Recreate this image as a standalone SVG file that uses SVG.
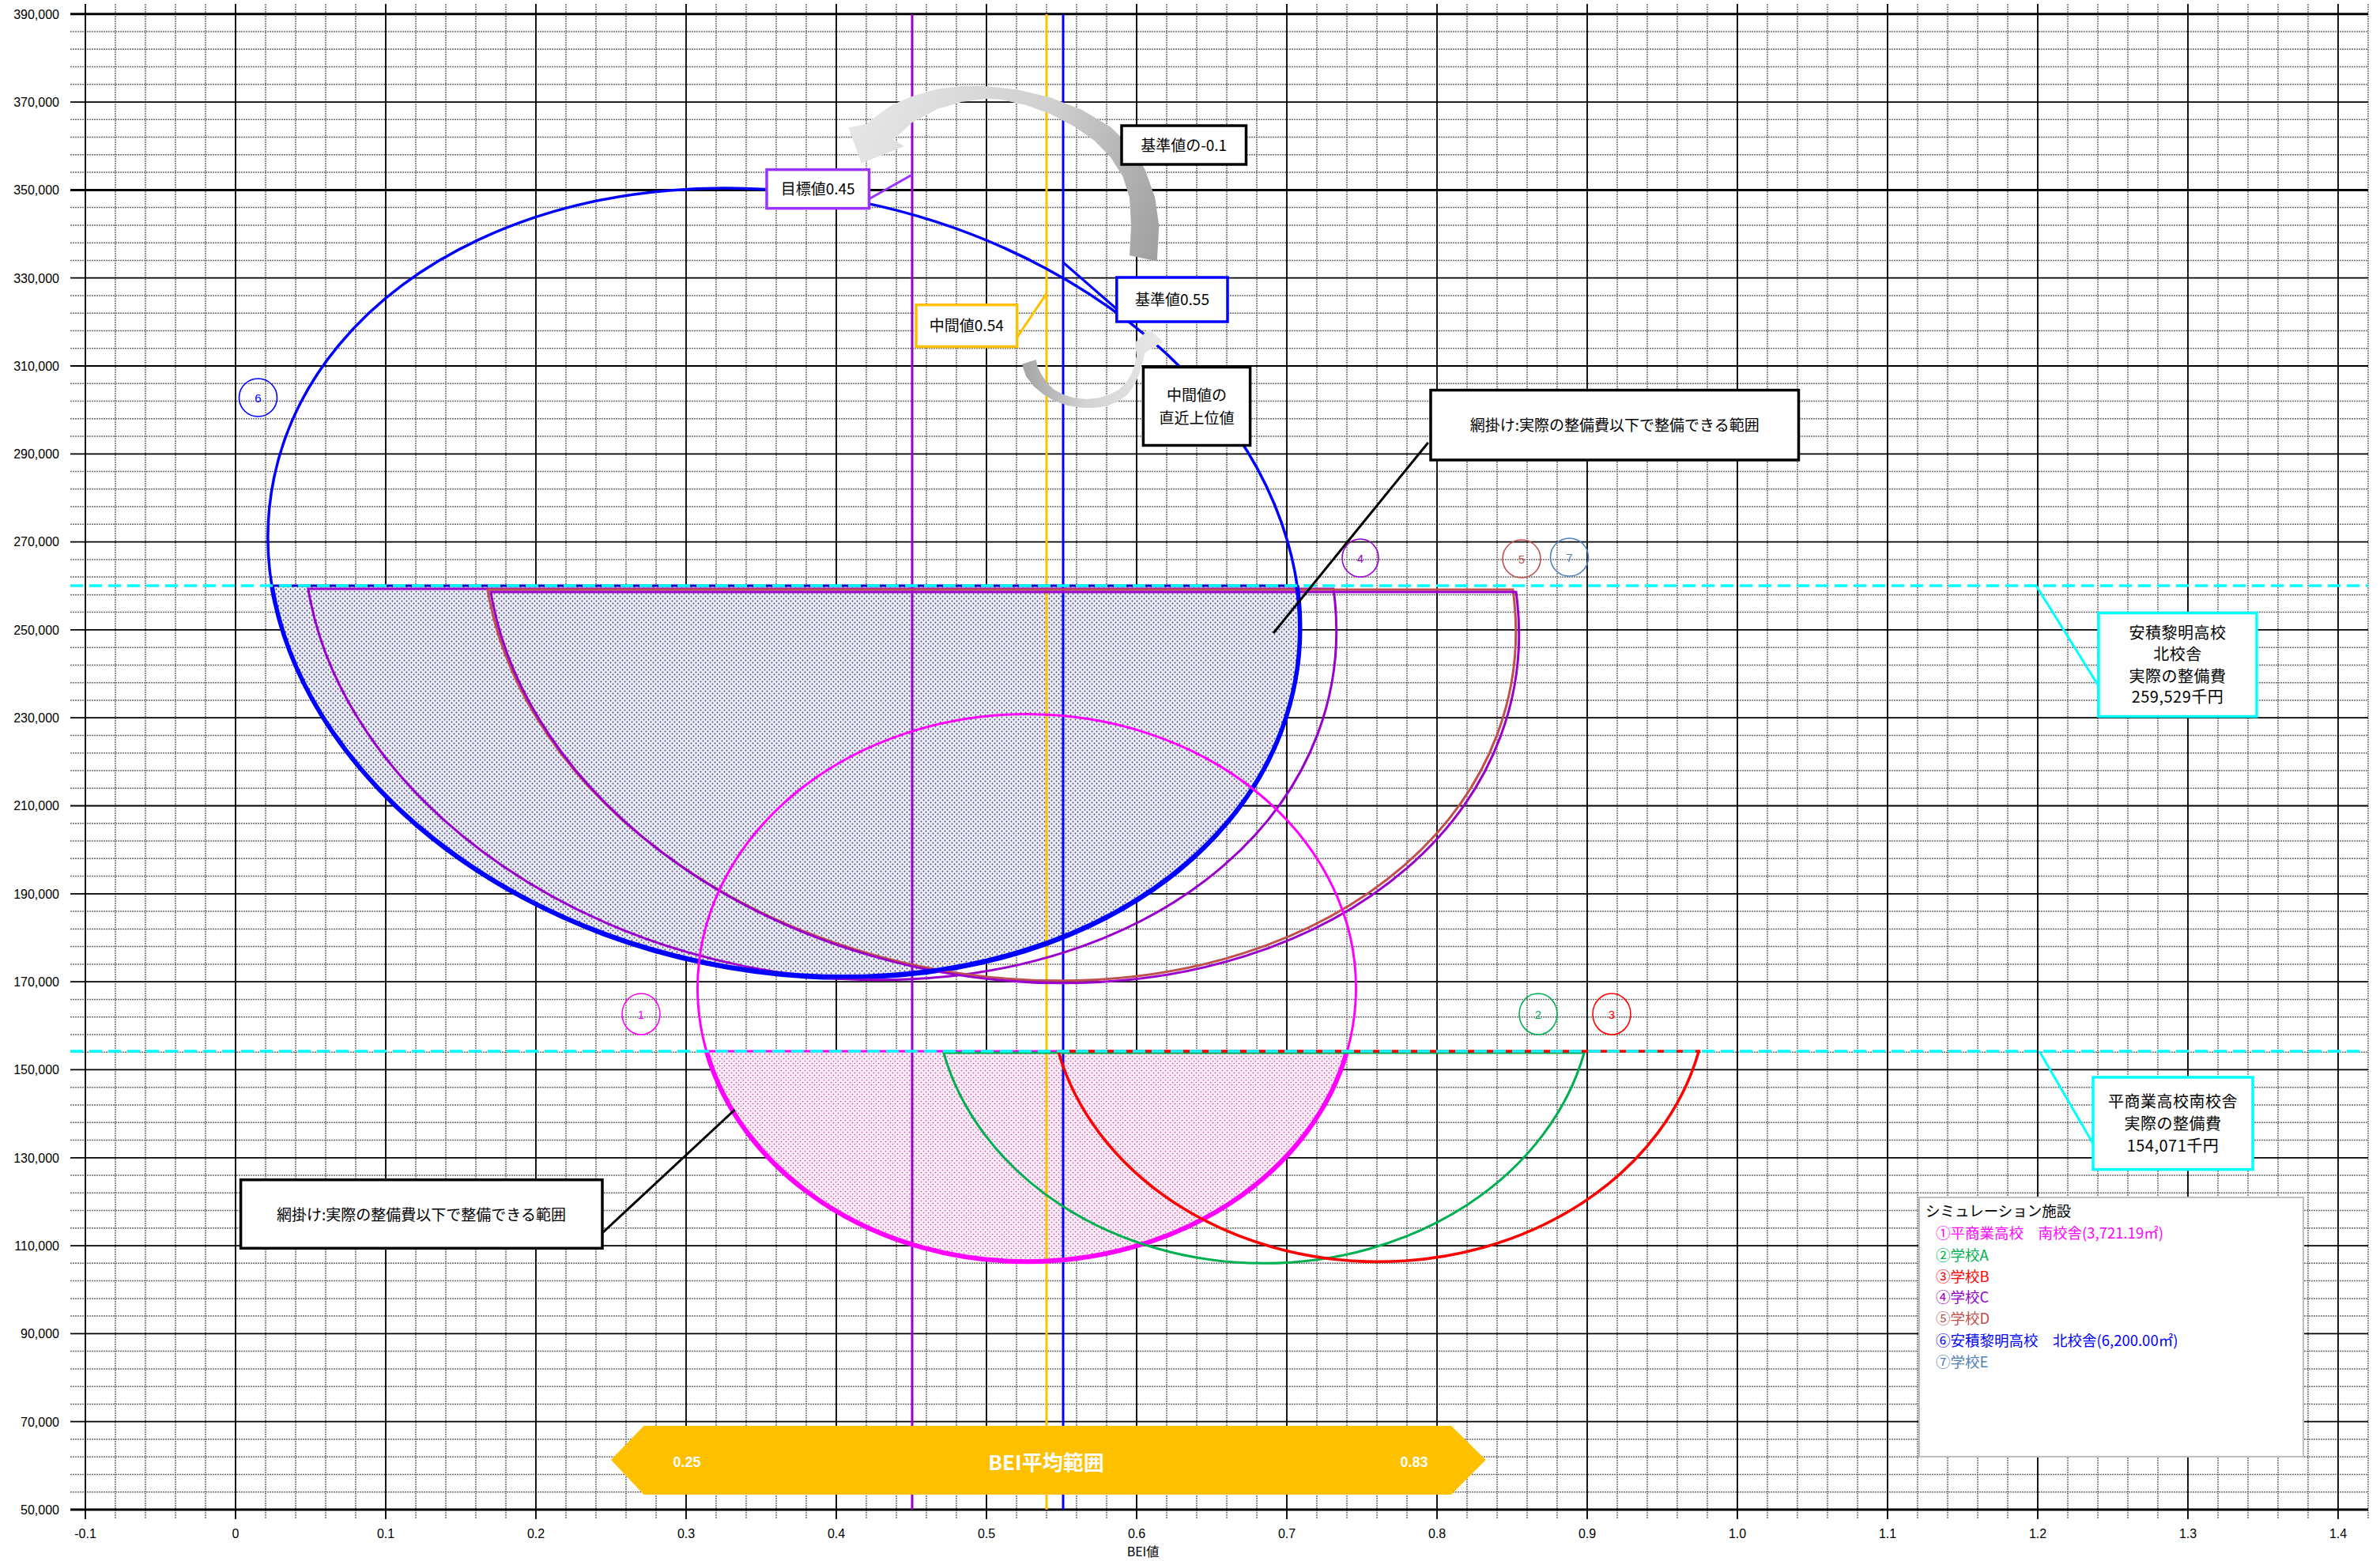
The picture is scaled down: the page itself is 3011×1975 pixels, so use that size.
<svg xmlns="http://www.w3.org/2000/svg" width="3011" height="1975" viewBox="0 0 3011 1975">
<defs>
<style>
.ax{font-family:"Liberation Sans",Arial,sans-serif;font-size:16px;fill:#000}
.jp{font-family:"Noto Sans CJK JP","Noto Sans",sans-serif}
.minor{stroke:#707070;stroke-width:1.5;stroke-dasharray:2 1;fill:none}
.major{stroke:#000;stroke-width:1.8;fill:none}
.box{fill:#fff;stroke-width:3.5}
.lbl{font-family:"Noto Sans CJK JP","Noto Sans",sans-serif;font-size:19px;fill:#000;text-anchor:middle}
.cyt{font-family:"Noto Sans CJK JP","Noto Sans",sans-serif;font-size:20px;fill:#000;text-anchor:middle;letter-spacing:0.5px}
.lg{font-family:"Noto Sans CJK JP","Noto Sans",sans-serif;font-size:18.5px}
.num{font-family:"Liberation Sans",Arial,sans-serif;font-size:15px;text-anchor:middle}
.cyan{stroke:#00FFFF;stroke-width:3.5;stroke-dasharray:16 8;fill:none}
</style>
<pattern id="hatchB" width="6" height="6" patternUnits="userSpaceOnUse"><rect width="6" height="6" fill="#ECECF6"/><circle cx="1.5" cy="1.5" r="0.9" fill="#3C3C7A"/><circle cx="4.5" cy="4.5" r="0.9" fill="#3C3C7A"/></pattern>
<pattern id="hatchP" width="6" height="6" patternUnits="userSpaceOnUse"><rect width="6" height="6" fill="#FDEBF9"/><circle cx="1.5" cy="1.5" r="0.85" fill="#C0509E"/><circle cx="4.5" cy="4.5" r="0.85" fill="#C0509E"/></pattern>
<linearGradient id="gBig" gradientUnits="userSpaceOnUse" x1="1080" y1="150" x2="1470" y2="300"><stop offset="0" stop-color="#E6E6E6"/><stop offset="0.55" stop-color="#CFCFCF"/><stop offset="1" stop-color="#A0A0A0"/></linearGradient>
<linearGradient id="gSmall" gradientUnits="userSpaceOnUse" x1="1295" y1="460" x2="1470" y2="430"><stop offset="0" stop-color="#A6A6A6"/><stop offset="0.4" stop-color="#D4D4D4"/><stop offset="1" stop-color="#E8E8E8"/></linearGradient>
<path id="halfU" d="M343.9,741 A659,492 11.65 0 0 1641,741 Z"/>
<path id="halfL" d="M893.8,1330 A416.5,346.5 0 0 0 1704.2,1330 Z"/>
</defs>
<rect width="3011" height="1975" fill="#fff"/>
<g id="grid">
<path class="minor" d="M146 5V1922M184 5V1922M222 5V1922M260 5V1922M336 5V1922M374 5V1922M412 5V1922M450 5V1922M526 5V1922M564 5V1922M602 5V1922M640 5V1922M716 5V1922M754 5V1922M792 5V1922M830 5V1922M906 5V1922M944 5V1922M982 5V1922M1020 5V1922M1096 5V1922M1134 5V1922M1172 5V1922M1210 5V1922M1286 5V1922M1324 5V1922M1362 5V1922M1400 5V1922M1476 5V1922M1514 5V1922M1552 5V1922M1590 5V1922M1666 5V1922M1704 5V1922M1742 5V1922M1780 5V1922M1856 5V1922M1894 5V1922M1932 5V1922M1970 5V1922M2046 5V1922M2084 5V1922M2122 5V1922M2160 5V1922M2236 5V1922M2274 5V1922M2312 5V1922M2350 5V1922M2426 5V1922M2464 5V1922M2502 5V1922M2540 5V1922M2616 5V1922M2654 5V1922M2692 5V1922M2730 5V1922M2806 5V1922M2844 5V1922M2882 5V1922M2920 5V1922M2996 5V1922"/>
<path class="minor" d="M89 1887.7H2996M89 1865.5H2996M89 1843.2H2996M89 1821H2996M89 1776.4H2996M89 1754.2H2996M89 1731.9H2996M89 1709.6H2996M89 1665.1H2996M89 1642.9H2996M89 1620.6H2996M89 1598.3H2996M89 1553.8H2996M89 1531.5H2996M89 1509.3H2996M89 1487H2996M89 1442.5H2996M89 1420.2H2996M89 1398H2996M89 1375.7H2996M89 1331.2H2996M89 1308.9H2996M89 1286.7H2996M89 1264.4H2996M89 1219.9H2996M89 1197.6H2996M89 1175.4H2996M89 1153.1H2996M89 1108.6H2996M89 1086.3H2996M89 1064H2996M89 1041.8H2996M89 997.3H2996M89 975H2996M89 952.7H2996M89 930.5H2996M89 885.9H2996M89 863.7H2996M89 841.4H2996M89 819.2H2996M89 774.6H2996M89 752.4H2996M89 730.1H2996M89 707.9H2996M89 663.3H2996M89 641.1H2996M89 618.8H2996M89 596.5H2996M89 552H2996M89 529.8H2996M89 507.5H2996M89 485.2H2996M89 440.7H2996M89 418.5H2996M89 396.2H2996M89 373.9H2996M89 329.4H2996M89 307.2H2996M89 284.9H2996M89 262.6H2996M89 218.1H2996M89 195.8H2996M89 173.6H2996M89 151.3H2996M89 106.8H2996M89 84.5H2996M89 62.3H2996M89 40H2996"/>
<path class="major" d="M108 5V1922M298 5V1922M488 5V1922M678 5V1922M868 5V1922M1058 5V1922M1248 5V1922M1438 5V1922M1628 5V1922M1818 5V1922M2008 5V1922M2198 5V1922M2388 5V1922M2578 5V1922M2768 5V1922M2958 5V1922"/>
<path class="major" d="M89 1798.7H2996M89 1687.4H2996M89 1576.1H2996M89 1464.8H2996M89 1353.4H2996M89 1242.1H2996M89 1130.8H2996M89 1019.5H2996M89 908.2H2996M89 796.9H2996M89 685.6H2996M89 574.3H2996M89 463H2996M89 351.7H2996M89 129.1H2996"/>
<path d="M89 1910H2996M89 240.4H2996M89 17.7H2996" stroke="#000" stroke-width="3" fill="none"/>
</g>
<g id="y-axis" class="ax" text-anchor="end">
<text x="75" y="23.5">390,000</text><text x="75" y="134.9">370,000</text><text x="75" y="246.2">350,000</text><text x="75" y="357.5">330,000</text><text x="75" y="468.8">310,000</text><text x="75" y="580.1">290,000</text><text x="75" y="691.4">270,000</text><text x="75" y="802.7">250,000</text><text x="75" y="914">230,000</text><text x="75" y="1025.3">210,000</text><text x="75" y="1136.6">190,000</text><text x="75" y="1247.9">170,000</text><text x="75" y="1359.2">150,000</text><text x="75" y="1470.6">130,000</text><text x="75" y="1581.9">110,000</text><text x="75" y="1693.2">90,000</text><text x="75" y="1804.5">70,000</text><text x="75" y="1915.8">50,000</text>
</g>
<g id="x-axis" class="ax" text-anchor="middle">
<text x="108" y="1946">-0.1</text><text x="298" y="1946">0</text><text x="488" y="1946">0.1</text><text x="678" y="1946">0.2</text><text x="868" y="1946">0.3</text><text x="1058" y="1946">0.4</text><text x="1248" y="1946">0.5</text><text x="1438" y="1946">0.6</text><text x="1628" y="1946">0.7</text><text x="1818" y="1946">0.8</text><text x="2008" y="1946">0.9</text><text x="2198" y="1946">1.0</text><text x="2388" y="1946">1.1</text><text x="2578" y="1946">1.2</text><text x="2768" y="1946">1.3</text><text x="2958" y="1946">1.4</text>
<text x="1446" y="1969" class="jp" style="font-size:16px">BEI値</text>
</g>
<g id="hatch-areas">
<use href="#halfU" fill="url(#hatchB)"/>
<use href="#halfL" fill="url(#hatchP)"/>
</g>
<g id="value-lines" stroke-width="3" fill="none">
<path d="M1154 18V1910" stroke="#9900CC"/>
<path d="M1324 18V1910" stroke="#FFC000"/>
<path d="M1345 18V1910" stroke="#0000FF"/>
</g>
<g id="curves" fill="none">
<ellipse id="c6-full" cx="992" cy="738" rx="659" ry="492" transform="rotate(11.65 992 738)" stroke="#0000FF" stroke-width="3.5"/>
<use id="c4" href="#halfU" transform="translate(46 4)" stroke="#9900CC" stroke-width="3"/>
<use id="c5" href="#halfU" transform="translate(273 5)" stroke="#C0504D" stroke-width="3"/>
<use id="c7" href="#halfU" transform="translate(277 8)" stroke="#9900CC" stroke-width="3"/>
<path id="c6-low" d="M343.9,741 A659,492 11.65 0 0 1641,741" stroke="#0000FF" stroke-width="5.5"/>
<path d="M343.9 741H1641" stroke="#0000CC" stroke-width="3"/>
<ellipse id="c1-full" cx="1299" cy="1250" rx="416.5" ry="346.5" stroke="#FF00FF" stroke-width="3"/>
<path id="c1-low" d="M893.8,1330 A416.5,346.5 0 0 0 1704.2,1330" stroke="#FF00FF" stroke-width="6"/>
<path d="M893.8 1330H1704.2" stroke="#FF00FF" stroke-width="3"/>
<use id="c2" href="#halfL" transform="translate(300 2)" stroke="#00B050" stroke-width="3"/>
<use id="c3" href="#halfL" transform="translate(445 0)" stroke="#FF0000" stroke-width="3.5"/>
</g>
<g id="reference-lines">
<path class="cyan" d="M89 741H2996"/>
<path class="cyan" d="M89 1330H2990"/>
</g>
<g id="markers" fill="none" stroke-width="1.6">
<g id="m6"><circle cx="326.5" cy="503" r="24" stroke="#0000FF"/><text class="num" x="326.5" y="508.5" fill="#0000FF" stroke="none">6</text></g>
<g id="m4"><ellipse cx="1721" cy="706" rx="23" ry="24" stroke="#9900CC"/><text class="num" x="1721" y="711.5" fill="#9900CC" stroke="none">4</text></g>
<g id="m5"><ellipse cx="1925" cy="707" rx="24" ry="24" stroke="#C0504D"/><text class="num" x="1925" y="712.5" fill="#C0504D" stroke="none">5</text></g>
<g id="m7"><ellipse cx="1985.5" cy="705" rx="24" ry="24" stroke="#4F81BD"/><text class="num" x="1985.5" y="710.5" fill="#4F81BD" stroke="none">7</text></g>
<g id="m1"><ellipse cx="811" cy="1283" rx="24" ry="26" stroke="#FF00FF"/><text class="num" x="811" y="1288.5" fill="#FF00FF" stroke="none">1</text></g>
<g id="m2"><ellipse cx="1946" cy="1283" rx="24" ry="26" stroke="#00B050"/><text class="num" x="1946" y="1288.5" fill="#00B050" stroke="none">2</text></g>
<g id="m3"><ellipse cx="2039" cy="1283" rx="24" ry="26" stroke="#FF0000"/><text class="num" x="2039" y="1288.5" fill="#FF0000" stroke="none">3</text></g>
</g>
<g id="connectors" fill="none" stroke-width="3">
<path d="M1099.5 251.8L1154 221" stroke="#9933FF"/>
<path d="M1345 332L1412.8 391" stroke="#0000FF"/>
<path d="M1286.7 426.8L1324 371.4" stroke="#FFC000"/>
<path d="M1806.8 560L1611 801" stroke="#000"/>
<path d="M762 1560L929.6 1404" stroke="#000"/>
<path d="M2576 741L2655 868" stroke="#00FFFF"/>
<path d="M2580 1330L2648 1447" stroke="#00FFFF"/>
</g>
<g id="arrows">
<path id="arrow-big" fill="url(#gBig)" d="M1463.8,330.4 L1466.3,285.7 L1461.2,250 L1448.5,214.3 L1430.6,185.7 L1405.1,160.7 L1369.4,139.3 L1328.6,123.2 L1287.8,113.6 L1246.9,108.9 L1216.3,108.9 L1185.7,112.5 L1155.1,121.4 L1129.6,132.1 L1109.2,146.4 L1096,157 L1073.5,161.4 L1089.8,206.4 L1143.9,185 L1130,177 L1154,155 L1185.7,138 L1216.3,129 L1246.9,125 L1267,126 L1298,133 L1328.6,144 L1359,160 L1384.7,178 L1405,199 L1420.4,223 L1429,250 L1431,285.7 L1429,323.2 Z"/>
<path id="arrow-small" fill="url(#gSmall)" d="M1292.9,460.7 L1298,476 L1308,489 L1320,499 L1333.7,507 L1350,513 L1369.4,516 L1385,516 L1400,514 L1414,508 L1425.5,500 L1434,489 L1440.8,475 L1445,461 L1448.5,446.4 L1471.4,432 L1453.6,416 L1435.7,434 L1438,450 L1435,463 L1430.6,475 L1424,485 L1415.3,493 L1404,499 L1389.8,503.6 L1374,505 L1359,503.6 L1345,499 L1333.7,493 L1325,485 L1318.4,475 L1313,465 L1310.7,455 Z"/>
</g>
<g id="labels">
<g id="lbl-target"><rect class="box" x="970" y="214.6" width="129.5" height="49" stroke="#9933FF"/><text class="lbl" x="1034.7" y="246">目標値0.45</text></g>
<g id="lbl-minus"><rect class="box" x="1419" y="159" width="157.5" height="49" stroke="#000" stroke-width="4"/><text class="lbl" x="1497.7" y="190.5">基準値の-0.1</text></g>
<g id="lbl-base"><rect class="box" x="1412.8" y="351" width="140.2" height="56" stroke="#0000FF"/><text class="lbl" x="1483" y="386">基準値0.55</text></g>
<g id="lbl-mid"><rect class="box" x="1159" y="385.7" width="127.7" height="52.9" stroke="#FFC000"/><text class="lbl" x="1222.8" y="419">中間値0.54</text></g>
<g id="lbl-upper"><rect class="box" x="1446.4" y="464.5" width="135.2" height="99" stroke="#000" stroke-width="4"/><text class="lbl" x="1514" y="507">中間値の</text><text class="lbl" x="1514" y="536">直近上位値</text></g>
<g id="lbl-hatch1"><rect class="box" x="1810" y="493.6" width="465.5" height="88.4" stroke="#000"/><text class="lbl" x="2042.7" y="545">網掛け:実際の整備費以下で整備できる範囲</text></g>
<g id="lbl-hatch2"><rect class="box" x="304.6" y="1492.7" width="457.4" height="86.6" stroke="#000"/><text class="lbl" x="533" y="1543.5">網掛け:実際の整備費以下で整備できる範囲</text></g>
<g id="lbl-north"><rect class="box" x="2655" y="775.5" width="200" height="131" stroke="#00FFFF"/><text class="cyt" x="2755" y="808">安積黎明高校</text><text class="cyt" x="2755" y="835">北校舎</text><text class="cyt" x="2755" y="862.5">実際の整備費</text><text class="cyt" x="2755" y="888.5">259,529千円</text></g>
<g id="lbl-south"><rect class="box" x="2648" y="1363" width="202" height="116.6" stroke="#00FFFF"/><text class="cyt" x="2749" y="1401">平商業高校南校舎</text><text class="cyt" x="2749" y="1429">実際の整備費</text><text class="cyt" x="2749" y="1457">154,071千円</text></g>
</g>
<g id="bei-range">
<polygon points="773,1847 814.5,1804 1836,1804 1879.7,1847 1836,1891 814.5,1891" fill="#FFC000"/>
<text x="869" y="1856" fill="#fff" font-family="Liberation Sans,Arial,sans-serif" font-size="18" font-weight="bold" text-anchor="middle">0.25</text>
<text x="1323.5" y="1860" fill="#fff" class="jp" font-size="26" font-weight="bold" text-anchor="middle">BEI平均範囲</text>
<text x="1789" y="1856" fill="#fff" font-family="Liberation Sans,Arial,sans-serif" font-size="18" font-weight="bold" text-anchor="middle">0.83</text>
</g>
<g id="legend">
<rect x="2428" y="1515" width="486" height="328" fill="#fff" stroke="#BFBFBF" stroke-width="2"/>
<text class="lg" x="2436" y="1539" fill="#000">シミュレーション施設</text>
<text class="lg" x="2449" y="1566.5" fill="#FF00FF">①平商業高校　南校舎(3,721.19㎡)</text>
<text class="lg" x="2449" y="1594.5" fill="#00B050">②学校A</text>
<text class="lg" x="2449" y="1621.5" fill="#FF0000">③学校B</text>
<text class="lg" x="2449" y="1648" fill="#9900CC">④学校C</text>
<text class="lg" x="2449" y="1675" fill="#C0504D">⑤学校D</text>
<text class="lg" x="2449" y="1703" fill="#0000FF">⑥安積黎明高校　北校舎(6,200.00㎡)</text>
<text class="lg" x="2449" y="1730" fill="#4F81BD">⑦学校E</text>
</g>
</svg>
